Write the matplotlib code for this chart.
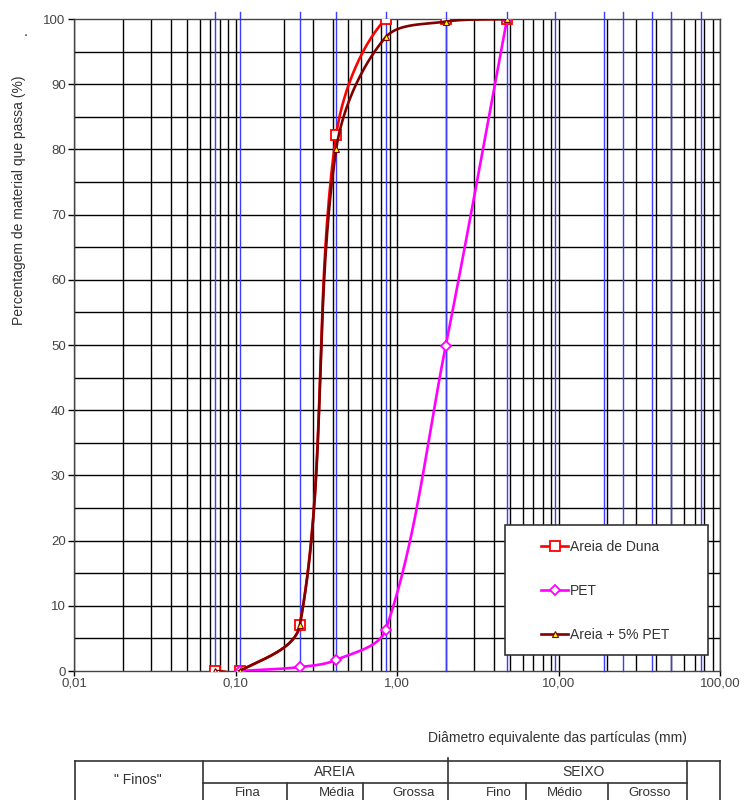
import numpy as np
import matplotlib
matplotlib.use("Agg")
import matplotlib.pyplot as plt
from matplotlib.patches import Rectangle
from matplotlib.ticker import FixedLocator, NullFormatter

plt.rcParams['font.family'] = ['Liberation Sans', 'DejaVu Sans']

# aberturas das peneiras (mm)
peneiras = [0.075, 0.106, 0.25, 0.42, 0.85, 2.0, 4.8, 9.5, 19.0, 25.0, 38.0, 50.0, 76.0]

# curvas granulometricas (% que passa)
d_areia = [0.075, 0.106, 0.25, 0.42, 0.85, 2.0, 4.8]
p_areia = [0.0, 0.0, 7.0, 82.2, 100.0, 100.0, 100.0]

d_pet = [0.106, 0.25, 0.42, 0.85, 2.0, 4.8]
p_pet = [0.0, 0.6, 1.7, 6.3, 49.8, 100.0]

d_mist = [0.075, 0.106, 0.25, 0.42, 0.85, 2.0, 4.8]
p_mist = [0.0, 0.0, 7.0, 80.0, 97.2, 99.6, 100.0]

decadas = [0.01, 0.1, 1, 10, 100]
rot_decadas = ["0,01", "0,10", "1,00", "10,00", "100,00"]

# tabela de classificacao
classes = ["AREIA", "SEIXO"]
subclasses = ["Fina", "Média", "Grossa", "Fino", "Médio", "Grosso"]

CINZA = '#333333'


def suave(x, y, n=40):
    # bezier suavizada no espaco da tela (log-x), controles escalados pelo comprimento das cordas
    X = np.log10(x) * 161.5
    Y = np.array(y) * 6.52
    P = np.column_stack([X, Y])
    d = np.hypot(*np.diff(P, axis=0).T)
    t = np.linspace(0, 1, n)[:, None]
    out = []
    for i in range(len(P) - 1):
        if i > 0:
            c1 = P[i] + (P[i + 1] - P[i - 1]) * d[i] / (d[i - 1] + d[i]) / 3
        else:
            c1 = P[i] + (P[i + 1] - P[i]) / 3
        if i + 2 < len(P):
            c2 = P[i + 1] - (P[i + 2] - P[i]) * d[i] / (d[i] + d[i + 1]) / 3
        else:
            c2 = P[i + 1] - (P[i + 1] - P[i]) / 3
        b = ((1 - t) ** 3) * P[i] + 3 * ((1 - t) ** 2) * t * c1 + 3 * (1 - t) * t ** 2 * c2 + t ** 3 * P[i + 1]
        out.append(b)
    out = np.vstack(out)
    return 10 ** (out[:, 0] / 161.5), out[:, 1] / 6.52


fig = plt.figure(figsize=(7.44, 8.0), dpi=100)
ax = fig.add_axes([74 / 744, 1 - 671 / 800, 646 / 744, 652 / 800])
ax.set_xscale('log')
ax.set_xlim(0.01, 100)
ax.set_ylim(0, 100)

# grade
minors = [m * 10.0 ** k for k in range(-2, 2) for m in range(2, 10)]
for v in minors + decadas:
    ax.plot([v, v], [0, 100], color='black', lw=1.0, zorder=1)
for v in np.arange(5, 100, 5):
    ax.axhline(v, color='black', lw=1.0, zorder=1)
for v in peneiras:
    ax.plot([v, v], [0, 101], color='#3c3cff', lw=1.0, zorder=2, clip_on=False)

ax.xaxis.set_major_locator(FixedLocator(decadas))
ax.xaxis.set_minor_locator(FixedLocator(minors))
ax.xaxis.set_minor_formatter(NullFormatter())
ax.set_xticklabels(rot_decadas)
ax.set_yticks(np.arange(0, 101, 10))
ax.tick_params(axis='both', which='major', direction='out', width=1,
               labelsize=9.5, labelcolor='#444444')
ax.tick_params(axis='x', which='major', length=3.5, pad=1.5)
ax.tick_params(axis='y', which='major', length=4, pad=2)
ax.tick_params(axis='x', which='minor', length=0)
for s in ax.spines.values():
    s.set_color('#444444')
    s.set_linewidth(1.0)

st_areia = dict(color='#ff0000', lw=1.9, marker='s', ms=6.5, mfc='white', mec='#ff0000', mew=1.3)
st_pet = dict(color='#ff00ff', lw=1.9, marker='D', ms=5.5, mfc='white', mec='#ff00ff', mew=1.3)
st_mist = dict(color='#800000', lw=1.9, marker='^', ms=5, mfc='#ffff00', mec='#800000', mew=0.8)

xs, ys = suave(d_areia, p_areia)
ax.plot(xs, ys, color=st_areia['color'], lw=st_areia['lw'], zorder=4)
ax.plot(d_areia, p_areia, ls='none', zorder=5, **{k: v for k, v in st_areia.items() if k not in ('color', 'lw')})

xs, ys = suave(d_pet, p_pet)
ax.plot(xs, ys, color=st_pet['color'], lw=st_pet['lw'], zorder=4)
ax.plot(d_pet, p_pet, ls='none', zorder=5, **{k: v for k, v in st_pet.items() if k not in ('color', 'lw')})

xs, ys = suave(d_mist, p_mist)
ax.plot(xs, ys, color=st_mist['color'], lw=st_mist['lw'], zorder=6)
ax.plot(d_mist, p_mist, ls='none', zorder=7, **{k: v for k, v in st_mist.items() if k not in ('color', 'lw')})

# legenda: caixa + entradas
ax.add_patch(Rectangle(((505 - 74) / 646, (671 - 655) / 652), 203 / 646, 130 / 652,
                       transform=ax.transAxes, facecolor='white', edgecolor=CINZA, lw=1.2, zorder=9))
h1 = ax.plot([], [], **st_areia)[0]
h2 = ax.plot([], [], **st_pet)[0]
h3 = ax.plot([], [], **st_mist)[0]
leg = ax.legend([h1, h2, h3], ["Areia de Duna", "PET", "Areia + 5% PET"],
                loc='upper left', bbox_to_anchor=((541 - 74) / 646, (671 - 540) / 652),
                fontsize=10, labelspacing=2.15, handlelength=1.95, handletextpad=0.15,
                borderpad=0, borderaxespad=0, frameon=False)
for t in leg.get_texts():
    t.set_color(CINZA)
leg.set_zorder(10)

fig.text(19 / 744, 1 - 200 / 800, "Percentagem de material que passa (%)", rotation=90,
         ha='center', va='center', fontsize=10, color=CINZA)
fig.text(23 / 744, 1 - 33 / 800, ".", rotation=90, ha='center', va='center', fontsize=10, color=CINZA)
fig.text(557 / 744, 1 - 738 / 800, "Diâmetro equivalente das partículas (mm)",
         ha='center', va='center', fontsize=10, color=CINZA)

# tabela de classificacao
tb = fig.add_axes([0, 0, 1, 1], zorder=-1)
tb.set_xlim(0, 744)
tb.set_ylim(800, 0)
tb.axis('off')
lk = dict(color=CINZA, lw=1.2)
tb.plot([75, 720], [761, 761], **lk)
tb.plot([203, 687], [783, 783], **lk)
for xv in [75, 203, 687, 720]:
    tb.plot([xv, xv], [761, 800], **lk)
tb.plot([448, 448], [758, 800], **lk)
for xv in [287, 363, 526, 608]:
    tb.plot([xv, xv], [783, 800], **lk)
tb.text(138, 780, '" Finos"', ha='center', va='center', fontsize=10, color=CINZA)
for nome, xc in zip(classes, [335, 584]):
    tb.text(xc, 772, nome, ha='center', va='center', fontsize=10, color=CINZA)
for nome, xc in zip(subclasses, [248, 337, 414, 499, 565, 650]):
    tb.text(xc, 792.5, nome, ha='center', va='center', fontsize=9.5, color=CINZA)

fig.savefig("out.png", dpi=100)
